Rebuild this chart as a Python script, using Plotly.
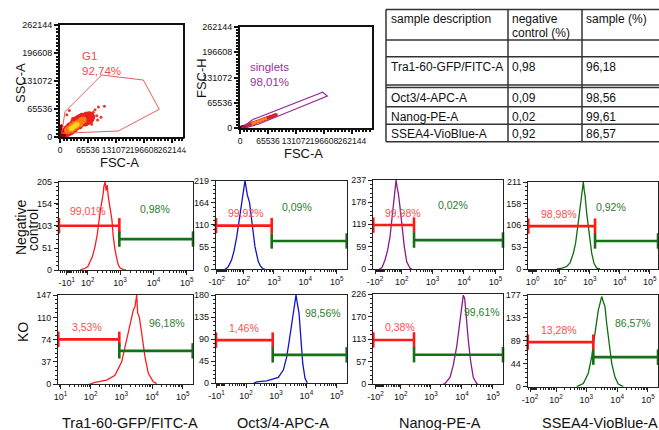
import numpy as np
import plotly.graph_objects as go

# ---------------- data ----------------
markers = ["Tra1-60-GFP/FITC-A", "Oct3/4-APC-A", "Nanog-PE-A", "SSEA4-VioBlue-A"]
table_header = ["sample description", "negative", "control (%)", "sample (%)"]
neg_ctrl_pct = ["0,98", "0,09", "0,02", "0,92"]
sample_pct = ["96,18", "98,56", "99,61", "86,57"]

neg_low_pct = ["99,01%", "99,92%", "99,98%", "98,98%"]
neg_high_pct = ["0,98%", "0,09%", "0,02%", "0,92%"]
ko_low_pct = ["3,53%", "1,46%", "0,38%", "13,28%"]
ko_high_pct = ["96,18%", "98,56%", "99,61%", "86,57%"]

g1_pct = "92,74%"
singlets_pct = "98,01%"
scatter_ticks = [0, 65536, 131072, 196608, 262144]

# G1 gate (FSC-A, SSC-A) and singlets gate (FSC-A, FSC-H)
g1_fsc = [11700, 50800, 97600, 195000, 232400, 136500, 4000, 11700]
g1_ssc = [59200, 98300, 145100, 133400, 64800, 14000, 8700, 59200]
sing_fsc_a = [3980, 31130, 193570, 204330, 42830, 11700, 3980]
sing_fsc_h = [780, 22580, 92660, 83060, 9600, 0, 780]

# pseudocolour dot plot events (approximate)
p1_red_x = [6000, 10000, 14000, 16000, 20000, 22000, 26000, 28000, 32000, 32000, 36000, 38000,
            42000, 44000, 48000, 50000, 54000, 56000, 60000, 62000, 66000, 68000, 72000, 40000,
            34000, 46000, 52000, 24000, 18000, 58000, 64000, 12000, 8000, 70000, 44000]
p1_red_y = [5000, 7000, 9000, 14000, 12000, 18000, 15000, 22000, 20000, 29000, 25000, 33000,
            29000, 37000, 33000, 41000, 37000, 45000, 41000, 48000, 44000, 50000, 47000, 39000,
            34000, 43000, 46000, 24000, 18000, 35000, 38000, 11000, 10000, 42000, 28000]
p1_sparse_x = [78000, 86000, 82000, 90000, 74000, 96000, 16000, 22000, 104000, 60000, 30000, 88000]
p1_sparse_y = [58000, 50000, 64000, 70000, 30000, 46000, 52000, 62000, 72000, 56000, 44000, 40000]
p1_orange_x = [18000, 22000, 26000, 28000, 32000, 34000, 38000, 42000, 46000, 50000, 54000, 30000]
p1_orange_y = [15000, 19000, 18000, 24000, 22000, 29000, 27000, 33000, 31000, 38000, 40000, 26000]
p1_yellow_x = [28000, 32000, 36000, 40000, 26000]
p1_yellow_y = [21000, 24000, 27000, 30000, 20000]
p1_dark_x = [2000, 3000, 4000, 2500, 6000, 9000, 3000]
p1_dark_y = [3000, 8000, 14000, 19000, 3000, 4000, 25000]

p2_red_x = [4000, 8000, 12000, 16000, 20000, 24000, 28000, 32000, 36000, 40000, 44000,
            48000, 52000, 56000, 60000, 64000, 68000, 72000, 76000, 80000, 84000]
p2_red_y = [1500, 3200, 4800, 6400, 8200, 9600, 11400, 13000, 14500, 16200, 17800,
            19300, 21000, 22600, 24200, 25800, 27400, 29000, 30600, 32200, 33800]
p2_orange_x = [30000, 36000, 42000, 48000, 54000, 60000]
p2_orange_y = [12200, 14600, 17000, 19400, 21800, 24200]
p2_dark_x = [2000, 5000, 8000]
p2_dark_y = [500, 1500, 2500]

# histograms: fluorescence intensity and event counts
neg_x = [
    [49, 66, 79, 100, 118, 140, 172, 205, 247, 285, 310, 325, 352, 380, 410, 440, 499, 570, 620, 704, 820, 880, 995, 1250, 1500],
    [5, 16, 31, 42, 56, 66, 76, 87, 100, 115, 138, 164, 193, 218, 247, 316, 373, 438, 519],
    [-30, 0, 11, 21, 31, 38.5, 46, 55, 61, 68, 75, 86, 99, 110, 123, 148, 168, 190, 222],
    [78, 118, 170, 220, 283, 336, 385, 439, 474, 540, 574, 611, 655, 696, 792, 876, 968, 1164, 1387, 1709, 2198],
]
neg_y = [
    [0, 2, 4, 8, 18, 30, 54, 85, 133, 160, 179, 195, 205, 185, 198, 171, 140, 116, 80, 47, 22, 12, 5, 1, 0],
    [0, 5, 23, 45, 80, 110, 138, 170, 196, 219, 184, 165, 122, 90, 56, 19, 8, 2, 0],
    [0, 4, 24, 50, 86, 130, 175, 219, 237, 215, 201, 166, 122, 95, 59, 19, 8, 2, 0],
    [0, 2, 6, 15, 38, 62, 95, 125, 151, 184, 195, 211, 190, 179, 135, 105, 78, 38, 14, 2, 0],
]
ko_x = [
    [90, 138, 333, 621, 1026, 1315, 1683, 2173, 2450, 2780, 3162, 3406, 3838, 4600, 5891, 7548, 10970, 14160],
    [180, 229, 491, 1185, 1734, 2244, 2736, 3282, 3708, 4218, 4551, 5025, 5715, 6654, 7570, 9015, 10740],
    [2400, 2837, 4110, 5260, 6760, 8200, 9815, 11040, 12245, 13490, 15990, 19140, 23220, 29850, 33000],
    [487, 797, 1159, 1493, 1774, 2060, 2449, 2780, 3155, 3557, 4037, 4582, 5572, 6668, 8531, 10915, 15860],
]
ko_y = [
    [0, 3, 7, 15, 37, 62, 89, 111, 122, 128, 147, 117, 111, 84, 45, 18, 4, 1],
    [0, 3, 5, 12, 27, 54, 88, 122, 149, 166, 180, 163, 143, 88, 41, 10, 1],
    [0, 2, 17, 48, 94, 144, 194, 223, 215, 169, 111, 57, 17, 2, 0],
    [0, 6, 26, 58, 90, 122, 148, 161, 174, 164, 154, 122, 77, 45, 18, 5, 0],
]
neg_yticks = [[0, 51, 103, 154, 205], [0, 55, 110, 164, 219], [0, 59, 119, 178, 237], [0, 53, 106, 158, 211]]
ko_yticks = [[0, 37, 74, 110, 147], [0, 45, 90, 135, 180], [0, 57, 113, 170, 226], [0, 44, 89, 133, 177]]
neg_xticks = [[-10, 1e2, 1e3, 1e4, 1e5], [-100, 1e2, 1e3, 1e4, 1e5], [-100, 1e2, 1e3, 1e4, 1e5], [1, 1e2, 1e3, 1e4, 1e5]]
ko_xticks = [[10, 1e2, 1e3, 1e4, 1e5], [-10, 1e2, 1e3, 1e4, 1e5], [-100, 1e2, 1e3, 1e4, 1e5], [-100, 1e2, 1e3, 1e4, 1e5]]

# gates: boundary intensity and drawing level (counts)
neg_bound = [950, 850, 257, 1500]
ko_bound = [857, 774, 282, 1684]
neg_low_lvl = [103, 108, 117, 104]
neg_high_lvl = [72, 70, 77, 68]
ko_low_lvl = [74, 88, 111, 86]
ko_high_lvl = [55, 58, 74, 57]

# ---------------- styling ----------------
FW, FH = 659, 430
FONT = "Liberation Sans, Arial, sans-serif"
hist_col = ["#ff1a1a", "#1212cc", "#8a1a8a", "#0b6e0b"]
GATE_RED, GATE_GREEN = "#ff1a1a", "#167016"
LAB_RED, LAB_GREEN = "#ff4d4d", "#2d7d2d"

# biexponential display parameters per panel (width basis, negative compression, range)
hist_w = [[30, 25, 25, 12], [2, 15, 25, 20]]
hist_neg = [[1.0, 0.35, 0.35, 1.0], [1.0, 1.0, 0.3, 0.18]]
hist_lim = [[(-46, 153000), (-117, 207800), (-150, 173000), (-7.1, 188000)],
            [(8.4, 210800), (-11.2, 214000), (-178, 210800), (-272, 212000)]]
hist_box = [[(59, 193, 182, 270), (216, 346.7, 180.7, 269.3), (373.3, 503, 180, 269), (528.3, 658, 182, 269)],
            [(58.3, 192.7, 295, 384.3), (216, 346.7, 295, 383.3), (373.3, 503, 294, 384.3), (527.7, 658, 295, 386.7)]]
low_lab = [[(0.216, 0.674), (0.23, 0.632), (0.231, 0.633), (0.239, 0.632)],
           [(0.211, 0.645), (0.214, 0.623), (0.206, 0.638), (0.243, 0.618)]]
high_lab = [[(0.716, 0.69), (0.617, 0.706), (0.617, 0.72), (0.635, 0.71)],
            [(0.807, 0.683), (0.816, 0.8), (0.836, 0.804), (0.811, 0.698)]]

LN10 = np.log(10.0)


def biex(v, w, neg):
    v = np.asarray(v, dtype=float)
    u = np.arcsinh(v / (2.0 * w)) / LN10
    return np.where(v < 0, u * neg, u)


def px_x(a, b):
    return [a / FW, b / FW]


def px_y(top, bottom):
    return [1 - bottom / FH, 1 - top / FH]


def tick_text(v):
    k = int(round(np.log10(abs(v))))
    return ("-" if v < 0 else "") + "10<sup>%d</sup>" % k


fig = go.Figure()
layout = dict(
    width=FW, height=FH, margin=dict(l=0, r=0, t=0, b=0),
    paper_bgcolor="white", plot_bgcolor="white", showlegend=False,
    font=dict(family=FONT, color="#111", size=9),
)
annotations = []
shapes = []

# ---------- scatter 1: SSC-A vs FSC-A ----------
ax_common = dict(showgrid=False, zeroline=False, showline=True, mirror=True, linecolor="#111",
                 linewidth=2, ticks="outside", ticklen=4, tickwidth=1.5, tickcolor="#111",
                 tickangle=0, automargin=False, tickfont=dict(size=9, family=FONT, color="#111"))
layout["xaxis"] = dict(ax_common, domain=px_x(60, 183), range=[0, 288000], anchor="y",
                       tickmode="array", tickvals=scatter_ticks, ticktext=[str(t) for t in scatter_ticks],
                       tickfont=dict(size=8.5, family=FONT, color="#111"),
                       minor=dict(tickmode="linear", tick0=0, dtick=8192, ticklen=2, ticks="outside", tickcolor="#111"))
layout["yaxis"] = dict(ax_common, domain=px_y(25, 137), range=[0, 262144], anchor="x",
                       tickmode="array", tickvals=scatter_ticks, ticktext=[str(t) for t in scatter_ticks],
                       minor=dict(tickmode="linear", tick0=0, dtick=8192, ticklen=2, ticks="outside", tickcolor="#111"))
for xs, ys, col, sz in [(p1_sparse_x, p1_sparse_y, "#e8382a", 3), (p1_red_x, p1_red_y, "#e8231c", 9),
                        (p1_dark_x, p1_dark_y, "#8b0000", 4), (p1_orange_x, p1_orange_y, "#ff7a10", 7),
                        (p1_yellow_x, p1_yellow_y, "#ffd21e", 5)]:
    fig.add_trace(go.Scatter(x=xs, y=ys, mode="markers", xaxis="x", yaxis="y",
                             marker=dict(color=col, size=sz, line=dict(width=0)), hoverinfo="skip"))
fig.add_trace(go.Scatter(x=g1_fsc, y=g1_ssc, mode="lines", xaxis="x", yaxis="y",
                         line=dict(color="#f05a5a", width=1), hoverinfo="skip"))
annotations.append(dict(x=46800, y=171000, xref="x", yref="y", text="G1<br>" + g1_pct, showarrow=False,
                        xanchor="left", yanchor="middle", align="left",
                        font=dict(size=11.5, color="#f04a4a", family=FONT)))

# ---------- scatter 2: FSC-H vs FSC-A ----------
layout["xaxis2"] = dict(ax_common, domain=px_x(240, 372), range=[0, 308958], anchor="y2",
                        tickmode="array", tickvals=scatter_ticks, ticktext=[str(t) for t in scatter_ticks],
                        tickfont=dict(size=8.5, family=FONT, color="#111"),
                        minor=dict(tickmode="linear", tick0=0, dtick=8192, ticklen=2, ticks="outside", tickcolor="#111"))
layout["yaxis2"] = dict(ax_common, domain=px_y(27, 128), range=[0, 262144], anchor="x2",
                        tickmode="array", tickvals=scatter_ticks, ticktext=[str(t) for t in scatter_ticks],
                        minor=dict(tickmode="linear", tick0=0, dtick=8192, ticklen=2, ticks="outside", tickcolor="#111"))
for xs, ys, col, sz in [(p2_red_x, p2_red_y, "#d8261c", 4), (p2_dark_x, p2_dark_y, "#5a0000", 4),
                        (p2_orange_x, p2_orange_y, "#ff8c1a", 3)]:
    fig.add_trace(go.Scatter(x=xs, y=ys, mode="markers", xaxis="x2", yaxis="y2",
                             marker=dict(color=col, size=sz, line=dict(width=0)), hoverinfo="skip"))
fig.add_trace(go.Scatter(x=sing_fsc_a, y=sing_fsc_h, mode="lines", xaxis="x2", yaxis="y2",
                         line=dict(color="#9b2f9b", width=1.2), hoverinfo="skip"))
annotations.append(dict(x=18700, y=140000, xref="x2", yref="y2", text="singlets<br>" + singlets_pct,
                        showarrow=False, xanchor="left", yanchor="middle", align="left",
                        font=dict(size=11.5, color="#9b2f9b", family=FONT)))

# axis titles for the scatter plots
for txt, x, y, ang in [("SSC-A", 20, 83, -90), ("FSC-A", 119, 162.5, 0),
                       ("FSC-H", 201, 78, -90), ("FSC-A", 303, 153, 0)]:
    annotations.append(dict(x=x / FW, y=1 - y / FH, xref="paper", yref="paper", text=txt, textangle=ang,
                            showarrow=False, xanchor="center", yanchor="middle",
                            font=dict(size=13, color="#111", family=FONT)))
# the original montage crops the last tick label of the first plot
shapes.append(dict(type="rect", xref="paper", yref="paper", x0=184.5 / FW, x1=199 / FW,
                   y0=1 - 150 / FH, y1=1 - 138 / FH, fillcolor="white", line=dict(width=0), layer="above"))

# ---------- histograms ----------
hx = [neg_x, ko_x]
hy = [neg_y, ko_y]
yt = [neg_yticks, ko_yticks]
xt = [neg_xticks, ko_xticks]
bounds = [neg_bound, ko_bound]
low_lvl = [neg_low_lvl, ko_low_lvl]
high_lvl = [neg_high_lvl, ko_high_lvl]
low_txt = [neg_low_pct, ko_low_pct]
high_txt = [neg_high_pct, ko_high_pct]

n = 3
for r in range(2):
    for c in range(4):
        w, ng = hist_w[r][c], hist_neg[r][c]
        lo, hi = hist_lim[r][c]
        x0, x1, y0, y1 = hist_box[r][c]
        xa, ya = "xaxis%d" % n, "yaxis%d" % n
        xr, yr = "x%d" % n, "y%d" % n
        ymax = yt[r][c][-1]
        pos_minor = [m * 10 ** k for k in range(0, 5) for m in range(2, 10)]
        minor_v = [v for v in pos_minor + [-v for v in pos_minor] if lo < v < hi]
        layout[xa] = dict(domain=px_x(x0, x1), range=[float(biex(lo, w, ng)), float(biex(hi, w, ng))],
                          anchor=yr, showgrid=False, zeroline=False, showline=True, mirror=True,
                          linecolor="#222", linewidth=1.3, ticks="outside", ticklen=4, tickwidth=1.2,
                          tickcolor="#222", tickangle=0, automargin=False,
                          tickmode="array", tickvals=[float(v) for v in biex(xt[r][c], w, ng)],
                          ticktext=[tick_text(v) for v in xt[r][c]],
                          tickfont=dict(size=9, family=FONT, color="#111"),
                          minor=dict(tickmode="array", tickvals=[float(v) for v in biex(minor_v, w, ng)],
                                     ticklen=2, ticks="outside", tickcolor="#222"))
        layout[ya] = dict(domain=px_y(y0, y1), range=[0, ymax], anchor=xr, showgrid=False, zeroline=False,
                          showline=True, mirror=True, linecolor="#222", linewidth=1.3, ticks="outside",
                          ticklen=4, tickwidth=1.2, tickcolor="#222", automargin=False,
                          tickmode="array", tickvals=yt[r][c], ticktext=[str(v) for v in yt[r][c]],
                          tickfont=dict(size=9, family=FONT, color="#111"),
                          minor=dict(tickmode="array", tickvals=list(np.linspace(0, ymax, 21)),
                                     ticklen=2, ticks="outside", tickcolor="#222"))
        # histogram
        fig.add_trace(go.Scatter(x=biex(hx[r][c], w, ng), y=hy[r][c], mode="lines", xaxis=xr, yaxis=yr,
                                 line=dict(color=hist_col[c], width=1.3), hoverinfo="skip"))
        # gates
        b = bounds[r][c]
        for (ga, gb, lvl, col) in [(lo, b, low_lvl[r][c], GATE_RED), (b, hi, high_lvl[r][c], GATE_GREEN)]:
            fig.add_trace(go.Scatter(x=biex([ga, gb], w, ng), y=[lvl, lvl], mode="lines+markers",
                                     xaxis=xr, yaxis=yr, cliponaxis=False,
                                     line=dict(color=col, width=2.6),
                                     marker=dict(symbol="line-ns", size=11, color=col,
                                                 line=dict(color=col, width=2.6)),
                                     hoverinfo="skip"))
        lx, ly = low_lab[r][c]
        annotations.append(dict(x=lx, y=ly, xref=xr + " domain", yref=yr + " domain", text=low_txt[r][c],
                                showarrow=False, xanchor="center", yanchor="middle",
                                font=dict(size=10.5, color=LAB_RED, family=FONT)))
        gx, gy = high_lab[r][c]
        annotations.append(dict(x=gx, y=gy, xref=xr + " domain", yref=yr + " domain", text=high_txt[r][c],
                                showarrow=False, xanchor="center", yanchor="middle",
                                font=dict(size=10.5, color=LAB_GREEN, family=FONT)))
        n += 1

# row and column labels
for txt, x, y in [("Negative", 21, 228), ("control", 33, 230), ("KO", 23, 332)]:
    annotations.append(dict(x=x / FW, y=1 - y / FH, xref="paper", yref="paper", text=txt,
                            textangle=-90, showarrow=False, xanchor="center", yanchor="middle",
                            font=dict(size=14, color="#111", family=FONT)))
col_cx = [130, 283, 440, 600]
for c in range(4):
    annotations.append(dict(x=col_cx[c] / FW, y=1 - 423 / FH, xref="paper", yref="paper", text=markers[c],
                            showarrow=False, xanchor="center", yanchor="middle",
                            font=dict(size=14.5, color="#111", family=FONT)))

# ---------- table ----------
tl, tc1, tc2, tr = 386, 508, 582, 659
h_lines = [9.5, 40, 56.7, 85, 87.5, 106.7, 124.3, 141.7]
for yv in h_lines:
    shapes.append(dict(type="line", xref="paper", yref="paper", x0=tl / FW, x1=tr / FW,
                       y0=1 - yv / FH, y1=1 - yv / FH, line=dict(color="#333", width=1.5)))
for xv in [tl, tc1, tc2]:
    shapes.append(dict(type="line", xref="paper", yref="paper", x0=xv / FW, x1=xv / FW,
                       y0=1 - h_lines[0] / FH, y1=1 - h_lines[-1] / FH, line=dict(color="#333", width=1.5)))


def cell(txt, x, y):
    annotations.append(dict(x=x / FW, y=1 - y / FH, xref="paper", yref="paper", text=txt, showarrow=False,
                            xanchor="left", yanchor="middle", font=dict(size=12, color="#111", family=FONT)))


cell(table_header[0], 389, 18.5)
cell(table_header[1], 510, 18.5)
cell(table_header[2], 510, 32.7)
cell(table_header[3], 584, 18.5)
row_y = [66.7, 98.3, 116.5, 134]
for i in range(4):
    cell(markers[i], 389, row_y[i])
    cell(neg_ctrl_pct[i], 510, row_y[i])
    cell(sample_pct[i], 584, row_y[i])

layout["annotations"] = annotations
layout["shapes"] = shapes
fig.update_layout(**layout)
fig.write_html("out.html", config={"displayModeBar": False},
               post_script="document.body.style.margin='0px';")
